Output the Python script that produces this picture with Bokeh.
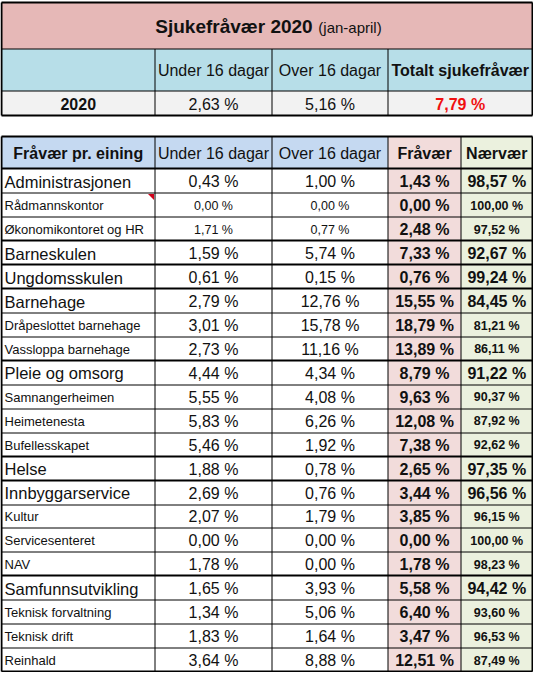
from bokeh.plotting import figure
from bokeh.models import Range1d, ColumnDataSource
from bokeh.embed import file_html
from bokeh.resources import INLINE
from bokeh.core.properties import value

# ---------------- data ----------------
title_main = "Sjukefråvær 2020"
title_sub = "(jan-april)"
top_headers = ["", "Under 16 dagar", "Over 16 dagar", "Totalt sjukefråvær"]
top_year = "2020"
top_under = 2.63
top_over = 5.16
top_total = 7.79

bottom_headers = ["Fråvær pr. eining", "Under 16 dagar", "Over 16 dagar", "Fråvær", "Nærvær"]
units = ["Administrasjonen", "Rådmannskontor", "Økonomikontoret og HR", "Barneskulen",
         "Ungdomsskulen", "Barnehage", "Dråpeslottet barnehage", "Vassloppa barnehage",
         "Pleie og omsorg", "Samnangerheimen", "Heimetenesta", "Bufellesskapet", "Helse",
         "Innbyggarservice", "Kultur", "Servicesenteret", "NAV", "Samfunnsutvikling",
         "Teknisk forvaltning", "Teknisk drift", "Reinhald"]
under = [0.43, 0.00, 1.71, 1.59, 0.61, 2.79, 3.01, 2.73, 4.44, 5.55, 5.83, 5.46, 1.88,
         2.69, 2.07, 0.00, 1.78, 1.65, 1.34, 1.83, 3.64]
over = [1.00, 0.00, 0.77, 5.74, 0.15, 12.76, 15.78, 11.16, 4.34, 4.08, 6.26, 1.92, 0.78,
        0.76, 1.79, 0.00, 0.00, 3.93, 5.06, 1.64, 8.88]
fravaer = [1.43, 0.00, 2.48, 7.33, 0.76, 15.55, 18.79, 13.89, 8.79, 9.63, 12.08, 7.38, 2.65,
           3.44, 3.85, 0.00, 1.78, 5.58, 6.40, 3.47, 12.51]
naervaer = [98.57, 100.00, 97.52, 92.67, 99.24, 84.45, 81.21, 86.11, 91.22, 90.37, 87.92,
            92.62, 97.35, 96.56, 96.15, 100.00, 98.23, 94.42, 93.60, 96.53, 87.49]
is_group = [1, 0, 0, 1, 1, 1, 0, 0, 1, 0, 0, 0, 1, 1, 0, 0, 0, 1, 0, 0, 0]
small_numbers = [0, 1, 1, 0, 0, 0, 0, 0, 0, 0, 0, 0, 0, 0, 0, 0, 0, 0, 0, 0, 0]


def fmt(v):
    return f"{v:.2f}".replace(".", ",") + " %"


# ---------------- layout ----------------
FONT = "Liberation Sans"
L, R = 9, 540
tx = [L, 162.5, 279.5, 395.5, R]
ty = [10, 56.5, 98.5, 123]
bx = [L, 162.5, 279.5, 395.5, 468.5, R]
b_top, b_head = 144, 176.5
b_bot = 679
n = len(units)
rh = (b_bot - b_head) / n
row_edges = [b_head + i * rh for i in range(n + 1)]

C_TITLE = "#E6B8B7"
C_TOPHEAD = "#B7DEE8"
C_TOPROW = "#F2F2F2"
C_BHEAD = "#C5D9F1"
C_FRA = "#F2DCDB"
C_NAER = "#EBF1DE"
C_TEXT = "#111111"
C_RED = "#F01010"

p = figure(width=533, height=672, x_range=Range1d(8, 541), y_range=Range1d(680, 8),
           output_backend="svg", toolbar_location=None, x_axis_type=None, y_axis_type=None,
           min_border=0, outline_line_color=None, background_fill_color="white")
p.grid.visible = False

# ---------- fills ----------
ql, qr, qt, qb, qc = [], [], [], [], []
# top table
ql.append(tx[0]); qr.append(tx[-1]); qt.append(ty[0]); qb.append(ty[1]); qc.append(C_TITLE)
ql.append(tx[0]); qr.append(tx[-1]); qt.append(ty[1]); qb.append(ty[2]); qc.append(C_TOPHEAD)
ql.append(tx[0]); qr.append(tx[-1]); qt.append(ty[2]); qb.append(ty[3]); qc.append(C_TOPROW)
# bottom header
head_cols = [C_BHEAD, C_BHEAD, C_BHEAD, C_FRA, C_NAER]
for j in range(5):
    ql.append(bx[j]); qr.append(bx[j + 1]); qt.append(b_top); qb.append(b_head); qc.append(head_cols[j])
# body columns
body_cols = ["white", "white", "white", C_FRA, C_NAER]
for j in range(5):
    ql.append(bx[j]); qr.append(bx[j + 1]); qt.append(b_head); qb.append(b_bot); qc.append(body_cols[j])
p.quad(left=ql, right=qr, top=qt, bottom=qb, fill_color=qc, line_color=None)

# ---------- thin lines ----------
x0s, y0s, x1s, y1s = [], [], [], []
# top table verticals (header + data rows)
for x in tx[1:-1]:
    x0s.append(x); x1s.append(x); y0s.append(ty[1]); y1s.append(ty[3])
for y in ty[1:3]:
    x0s.append(L); x1s.append(R); y0s.append(y); y1s.append(y)
# bottom verticals
for x in bx[1:-1]:
    x0s.append(x); x1s.append(x); y0s.append(b_top); y1s.append(b_bot)
# bottom horizontals (sub rows)
thick_after = []
for i in range(1, n):
    if is_group[i]:
        thick_after.append(row_edges[i])
    else:
        y = round(row_edges[i]) + 0.5
        x0s.append(L); x1s.append(R); y0s.append(y); y1s.append(y)
p.segment(x0=x0s, y0=y0s, x1=x1s, y1=y1s, line_color="black", line_width=1)

# ---------- thick lines ----------
X0, Y0, X1, Y1 = [], [], [], []
for y in [b_head] + thick_after:
    yy = round(y)
    X0.append(L); X1.append(R); Y0.append(yy); Y1.append(yy)
for (x_a, x_b, y_a, y_b) in [(L, R, ty[0], ty[-1]), (L, R, b_top, b_bot)]:
    X0 += [x_a, x_a, x_a, x_b]
    X1 += [x_b, x_b, x_a, x_b]
    Y0 += [y_a, y_b, y_a, y_a]
    Y1 += [y_a, y_b, y_b, y_b]
p.segment(x0=X0, y0=Y0, x1=X1, y1=Y1, line_color="black", line_width=2)

# comment marker (red triangle) in Rådmannskontor name cell
cx = bx[1] - 1
cy = row_edges[1] + 1
p.patch(x=[cx - 6, cx, cx], y=[cy, cy, cy + 6], fill_color="#D0021B", line_color=None)


def put(x, y, txt, size, bold=False, align="center", color=C_TEXT):
    p.text(x=[x], y=[y], text=[txt], text_font=value(FONT), text_font_size=value(size),
           text_font_style="bold" if bold else "normal", text_align=align,
           text_baseline="middle", text_color=color)


# ---------- top table texts ----------
mid_title = (ty[0] + ty[1]) / 2 + 1
# title: bold part and regular part, centred together
put((tx[0] + tx[-1]) / 2 - 33, mid_title, title_main, "19px", bold=True)
put((tx[0] + tx[-1]) / 2 + 83, mid_title + 1, title_sub, "15px")
hy = (ty[1] + ty[2]) / 2
for j in range(1, 4):
    put((tx[j] + tx[j + 1]) / 2, hy, top_headers[j], "16px", bold=(j == 3))
dy = (ty[2] + ty[3]) / 2 + 1
put((tx[0] + tx[1]) / 2, dy, top_year, "16px", bold=True)
put((tx[1] + tx[2]) / 2, dy, fmt(top_under), "16px")
put((tx[2] + tx[3]) / 2, dy, fmt(top_over), "16px")
put((tx[3] + tx[4]) / 2, dy, fmt(top_total), "16px", bold=True, color=C_RED)

# ---------- bottom header ----------
bhy = (b_top + b_head) / 2 + 1
for j in range(5):
    put((bx[j] + bx[j + 1]) / 2, bhy, bottom_headers[j], "16px", bold=(j in (0, 3, 4)))

# ---------- body texts ----------
name_x, name_y, name_t, name_s = [], [], [], []
cols = {k: ([], [], []) for k in range(1, 5)}
for i in range(n):
    yc = (row_edges[i] + row_edges[i + 1]) / 2 + 1
    put(bx[0] + 3, yc, units[i], "16.5px" if is_group[i] else "13px", align="left")
    num_size = "12.5px" if small_numbers[i] else "16px"
    put((bx[1] + bx[2]) / 2, yc, fmt(under[i]), num_size)
    put((bx[2] + bx[3]) / 2, yc, fmt(over[i]), num_size)
    put((bx[3] + bx[4]) / 2, yc, fmt(fravaer[i]), "16px", bold=True)
    put((bx[4] + bx[5]) / 2, yc, fmt(naervaer[i]), "16px" if is_group[i] else "12.5px", bold=True)

open("out.html", "w").write(file_html(p, INLINE))
